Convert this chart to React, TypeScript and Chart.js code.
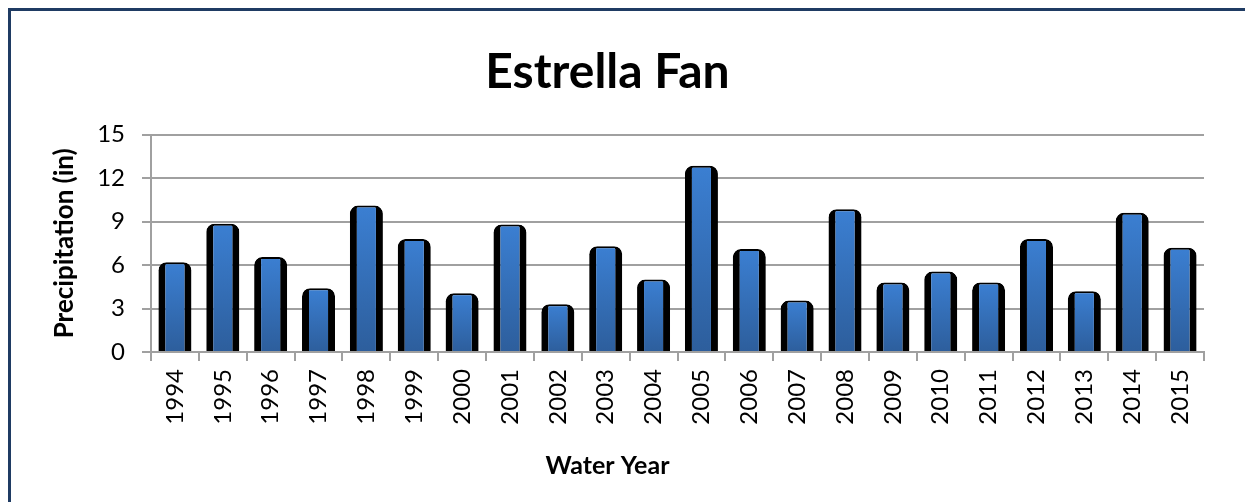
import React, { useEffect, useRef } from "react";
import { Chart, registerables } from "chart.js";

Chart.register(...registerables);

const years = [
  "1994", "1995", "1996", "1997", "1998", "1999", "2000", "2001", "2002", "2003", "2004",
  "2005", "2006", "2007", "2008", "2009", "2010", "2011", "2012", "2013", "2014", "2015",
];
const precipitation = [
  6.2, 8.85, 6.55, 4.4, 10.1, 7.8, 4.05, 8.8, 3.3, 7.3, 5.0,
  12.85, 7.1, 3.55, 9.85, 4.8, 5.55, 4.8, 7.8, 4.2, 9.6, 7.2,
];
const yMin = 0;
const yMax = 15;
const yStep = 3;
const chartTitle = "Estrella Fan";
const xTitle = "Water Year";
const yTitle = "Precipitation (in)";

const FONT = "Lato, 'Open Sans', sans-serif";
const GRID = "#a0a0a0";

export default function App() {
  const ref = useRef<HTMLCanvasElement | null>(null);

  useEffect(() => {
    document.body.style.overflow = "hidden";
    document.documentElement.style.overflow = "hidden";
    const canvas = ref.current;
    if (!canvas) return;
    const chart = new Chart(canvas, {
      type: "bar",
      data: {
        labels: years,
        datasets: [
          {
            label: yTitle,
            data: precipitation,
            backgroundColor: (ctx: any) => {
              const c = ctx.chart;
              if (!c.chartArea || ctx.raw == null) return "#3570b8";
              const ys = c.scales.y;
              const top = ys.getPixelForValue(ctx.raw);
              const bottom = ys.getPixelForValue(0);
              const g = c.ctx.createLinearGradient(0, top, 0, bottom);
              g.addColorStop(0, "#3b7fd2");
              g.addColorStop(1, "#2d5e9c");
              return g;
            },
            borderColor: "#000000",
            borderWidth: { top: 2, left: 7, right: 7, bottom: 0 },
            borderSkipped: false,
            borderRadius: { topLeft: 8, topRight: 8, bottomLeft: 0, bottomRight: 0 },
            barPercentage: 0.69,
            categoryPercentage: 1,
          },
        ],
      },
      options: {
        responsive: false,
        animation: false,
        layout: { padding: { left: 0, right: 73, top: 0, bottom: 0 } },
        plugins: {
          legend: { display: false },
          tooltip: { enabled: false },
          title: {
            display: true,
            text: chartTitle,
            color: "#000",
            font: { family: FONT, size: 48, weight: "bold" },
            padding: { top: 33, bottom: 33 },
          },
          subtitle: {
            display: true,
            position: "bottom",
            text: xTitle,
            color: "#000",
            font: { family: FONT, size: 25, weight: "bold" },
            padding: { top: 9, bottom: 21 },
          },
        },
        scales: {
          x: {
            afterFit: (s: any) => {
              s.height = 90;
            },
            grid: {
              offset: true,
              drawOnChartArea: false,
              color: GRID,
              lineWidth: 2,
              tickLength: 9,
            },
            border: { color: GRID, width: 2 },
            ticks: {
              color: "#000",
              font: { family: FONT, size: 24 },
              minRotation: 90,
              maxRotation: 90,
              padding: 8,
              autoSkip: false,
            },
          },
          y: {
            min: yMin,
            max: yMax,
            afterFit: (s: any) => {
              s.width = 140;
            },
            grid: { color: GRID, lineWidth: 2, tickLength: 9 },
            border: { color: GRID, width: 2 },
            ticks: {
              stepSize: yStep,
              color: "#000",
              font: { family: FONT, size: 24 },
              padding: 17,
            },
            title: {
              display: true,
              text: yTitle,
              color: "#000",
              font: { family: FONT, size: 26, weight: "bold" },
              padding: { top: 38, bottom: 0 },
            },
          },
        },
      },
    } as any);
    return () => chart.destroy();
  }, []);

  return (
    <div
      style={{
        position: "relative",
        width: 1300,
        height: 520,
        boxSizing: "border-box",
        borderLeft: "3px solid #1f3b63",
        borderTop: "3px solid #1f3b63",
        overflow: "hidden",
        background: "#fff",
      }}
    >
      <canvas
        ref={ref}
        width={1266}
        height={491}
        style={{ position: "absolute", left: 0, top: 0, width: 1266, height: 491 }}
      />
    </div>
  );
}
